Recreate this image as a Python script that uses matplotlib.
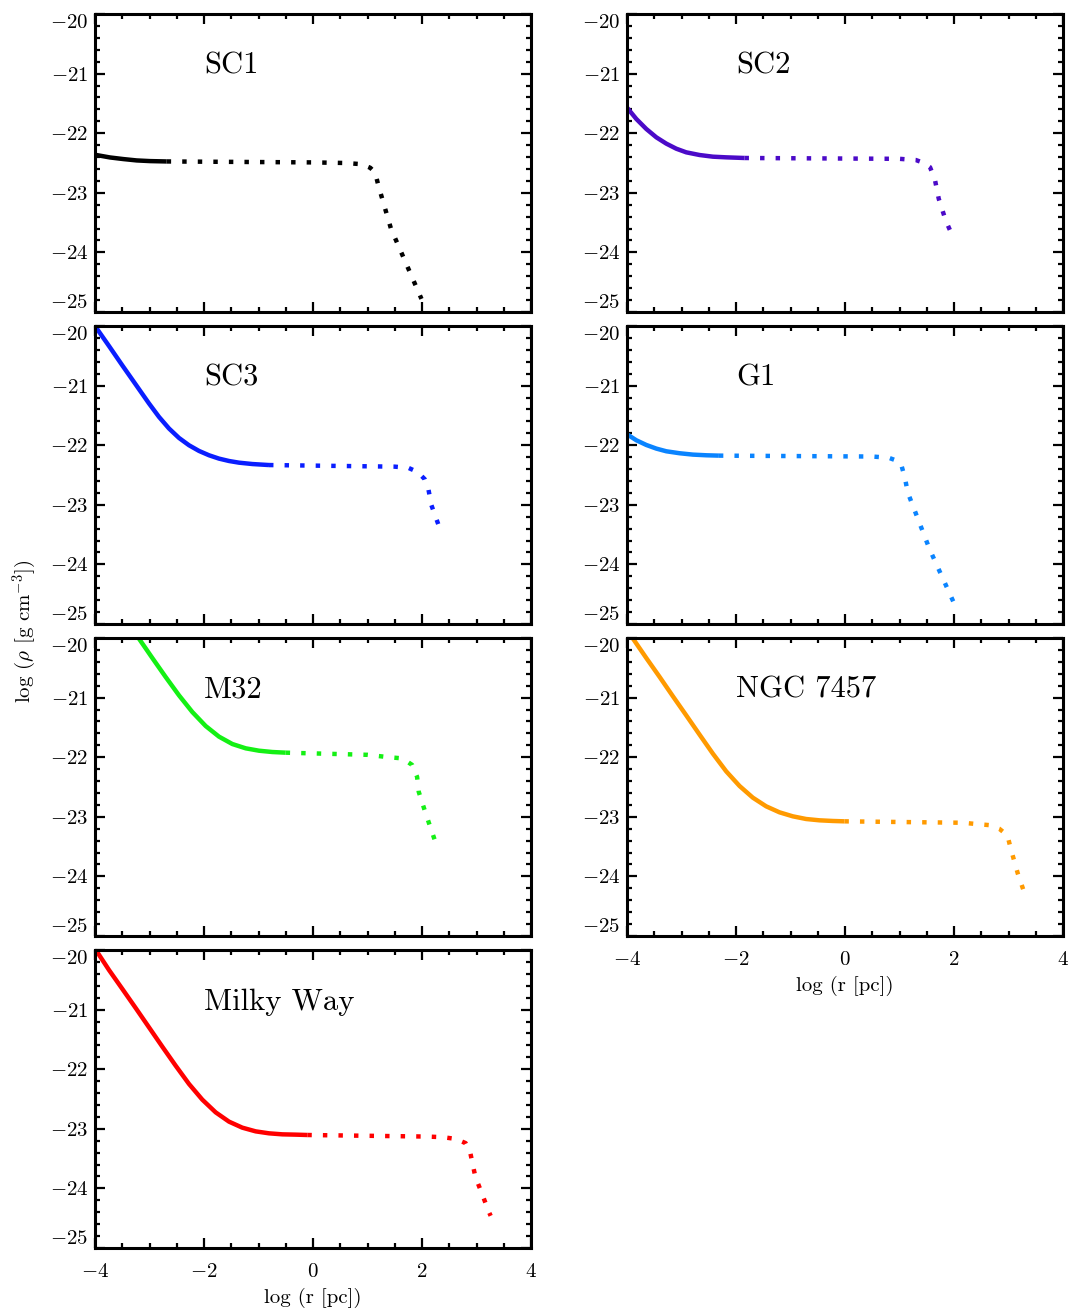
import numpy as np
import matplotlib.pyplot as plt
from matplotlib.ticker import MultipleLocator

plt.rcParams['font.family'] = 'serif'
plt.rcParams['font.serif'] = ['cmr10', 'DejaVu Serif']
plt.rcParams['mathtext.fontset'] = 'cm'
plt.rcParams['axes.formatter.use_mathtext'] = True

# log r [pc], log rho [g cm^-3]; inner = solid part, outer = dotted continuation
sc1_in_x = [-4.0, -3.725, -3.48, -3.235, -2.99, -2.685]
sc1_in_y = [-22.362, -22.407, -22.434, -22.457, -22.468, -22.474]
sc1_out_x = [-2.685, 0.0, 0.6, 0.89, 1.05, 1.14, 1.2, 1.43, 1.99]
sc1_out_y = [-22.474, -22.49, -22.5, -22.52, -22.58, -22.66, -22.88, -23.6, -24.78]

sc2_in_x = [-4.0, -3.829, -3.646, -3.462, -3.279, -3.096, -2.913, -2.668, -2.424, -2.18, -1.844]
sc2_in_y = [-21.57, -21.761, -21.929, -22.069, -22.175, -22.26, -22.321, -22.366, -22.394, -22.405, -22.416]
sc2_out_x = [-1.844, 1.0, 1.3, 1.45, 1.56, 1.65, 1.72, 1.85, 2.0]
sc2_out_y = [-22.416, -22.43, -22.45, -22.5, -22.57, -22.78, -23.1, -23.47, -23.78]

sc3_in_x = [-4.0, -3.743, -3.498, -3.254, -3.009, -2.826, -2.642, -2.459, -2.275,
            -2.092, -1.908, -1.725, -1.541, -1.358, -1.113, -0.807]
sc3_in_y = [-20.0, -20.336, -20.662, -20.98, -21.3, -21.525, -21.72, -21.878, -22.001,
            -22.096, -22.169, -22.225, -22.265, -22.293, -22.316, -22.333]
sc3_out_x = [-0.807, 1.5, 1.75, 1.92, 2.05, 2.12, 2.17, 2.3]
sc3_out_y = [-22.333, -22.36, -22.38, -22.45, -22.57, -22.75, -23.0, -23.33]

g1_in_x = [-4.0, -3.829, -3.646, -3.462, -3.279, -3.035, -2.79, -2.546, -2.314]
g1_in_y = [-21.816, -21.917, -21.996, -22.057, -22.102, -22.135, -22.158, -22.169, -22.175]
g1_out_x = [-2.314, 0.5, 0.8, 0.95, 1.03, 1.1, 1.15, 1.55, 2.0]
g1_out_y = [-22.175, -22.19, -22.21, -22.26, -22.32, -22.55, -22.79, -23.74, -24.65]

m32_in_x = [-3.193, -2.948, -2.703, -2.459, -2.214, -1.969, -1.725, -1.48, -1.235, -0.991, -0.746, -0.502]
m32_in_y = [-20.011, -20.336, -20.655, -20.962, -21.242, -21.477, -21.655, -21.779, -21.851, -21.891, -21.913, -21.924]
m32_out_x = [-0.502, 1.0, 1.39, 1.64, 1.82, 1.91, 1.94, 2.07, 2.23]
m32_out_y = [-21.924, -21.96, -22.0, -22.02, -22.13, -22.33, -22.58, -22.95, -23.38]

ngc_in_x = [-3.89, -3.646, -3.401, -3.157, -2.913, -2.668, -2.424, -2.18, -1.935,
            -1.691, -1.447, -1.202, -0.958, -0.713, -0.469, -0.225, -0.011]
ngc_in_y = [-20.011, -20.336, -20.654, -20.979, -21.298, -21.622, -21.941, -22.237, -22.483,
            -22.679, -22.824, -22.925, -22.992, -23.037, -23.059, -23.07, -23.076]
ngc_out_x = [-0.011, 2.16, 2.4, 2.65, 2.83, 2.98, 3.04, 3.17, 3.3]
ngc_out_y = [-23.076, -23.1, -23.12, -23.14, -23.2, -23.31, -23.53, -23.95, -24.3]

mw_in_x = [-3.976, -3.743, -3.498, -3.254, -3.009, -2.765, -2.52, -2.275, -2.031,
           -1.786, -1.541, -1.297, -1.052, -0.807, -0.563, -0.318, -0.104]
mw_in_y = [-20.011, -20.336, -20.654, -20.973, -21.298, -21.622, -21.941, -22.248, -22.511,
           -22.724, -22.88, -22.981, -23.043, -23.076, -23.093, -23.098, -23.104]
mw_out_x = [-0.104, 2.07, 2.38, 2.62, 2.8, 2.89, 2.98, 3.08, 3.23, 3.26]
mw_out_y = [-23.104, -23.13, -23.14, -23.17, -23.24, -23.42, -23.81, -24.04, -24.4, -24.46]

names = ['SC1', 'SC2', 'SC3', 'G1', 'M32', 'NGC 7457', 'Milky Way']
colors = ['black', '#4b0ac8', '#0a1eff', '#0a84ff', '#14f014', '#ff9a00', '#ff0000']
profiles = [
    (sc1_in_x, sc1_in_y, sc1_out_x, sc1_out_y),
    (sc2_in_x, sc2_in_y, sc2_out_x, sc2_out_y),
    (sc3_in_x, sc3_in_y, sc3_out_x, sc3_out_y),
    (g1_in_x, g1_in_y, g1_out_x, g1_out_y),
    (m32_in_x, m32_in_y, m32_out_x, m32_out_y),
    (ngc_in_x, ngc_in_y, ngc_out_x, ngc_out_y),
    (mw_in_x, mw_in_y, mw_out_x, mw_out_y),
]

fig = plt.figure(figsize=(10.75, 13.14), dpi=100)
gs = fig.add_gridspec(4, 2, left=95/1075, right=1063/1075,
                      top=1-14/1314, bottom=1-1248/1314,
                      wspace=96/436, hspace=14/298)

yticks = [-25, -24, -23, -22, -21, -20]
xticks = [-4, -2, 0, 2, 4]

for i, name in enumerate(names):
    row, col = divmod(i, 2)
    ax = fig.add_subplot(gs[row, col])
    xin, yin, xout, yout = profiles[i]
    ax.plot(xin, yin, color=colors[i], lw=3.2, solid_capstyle='butt',
            solid_joinstyle='round')
    ax.plot(xout, yout, color=colors[i], lw=3.2, linestyle=(0, (1, 2.5)),
            dash_capstyle='butt')

    ax.set_xlim(-4, 4)
    ax.set_ylim(-25, -20)
    ax.set_yticks(yticks)
    ax.set_yticklabels([r'$-%d$' % abs(v) for v in yticks], fontsize=15)
    tl = ax.get_yticklabels()
    tl[0].set_va('bottom')
    tl[-1].set_va('top')
    ax.yaxis.set_minor_locator(MultipleLocator(0.2))
    ax.set_xticks(xticks)
    ax.xaxis.set_minor_locator(MultipleLocator(0.5))

    last = (row == 3) or (row == 2 and col == 1)
    if last:
        ax.set_xticklabels([r'$%d$' % v if v >= 0 else r'$-%d$' % abs(v) for v in xticks],
                           fontsize=15)
        ax.set_xlabel('log (r [pc])', fontsize=15, labelpad=5)
    else:
        ax.set_xticklabels([])

    ax.tick_params(which='both', direction='in', top=True, right=True, width=1.6)
    ax.tick_params(which='major', length=7)
    ax.tick_params(which='minor', length=3.5)
    ax.tick_params(axis='y', pad=5)
    ax.tick_params(axis='x', pad=11)
    for s in ax.spines.values():
        s.set_linewidth(2.2)

    ax.text(0.25, 0.80, name, transform=ax.transAxes, fontsize=22,
            ha='left', va='baseline')

fig.text(0.023, 1 - 631/1314, r'log ($\rho$ [g cm$^{\mathregular{-3}}$])', rotation=90,
         fontsize=15, ha='center', va='center')

fig.savefig('out.png', dpi=100)
